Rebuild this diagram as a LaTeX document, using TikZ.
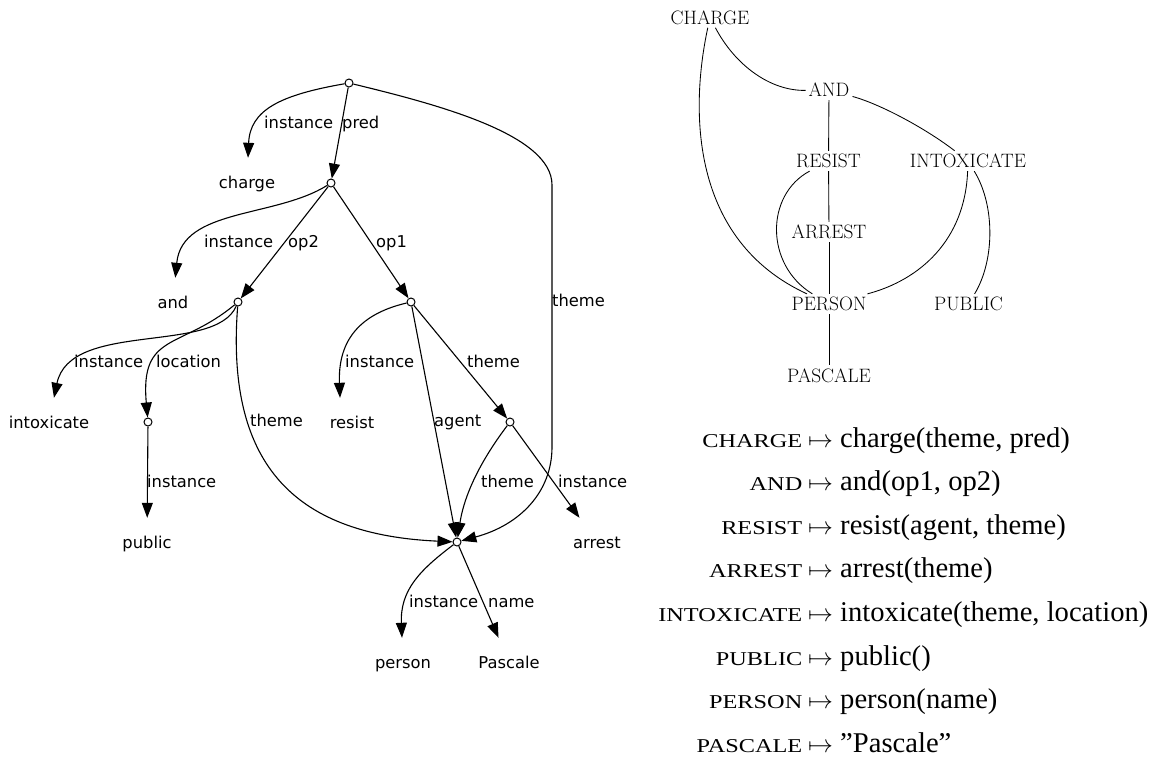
\documentclass[tikz,border=0pt]{standalone}
\usepackage{fontspec}
\usetikzlibrary{arrows.meta}
\newfontfamily\dvsans{DejaVu Sans}
\newfontfamily\libserif{Liberation Serif}
\newfontfamily\libsc[FakeStretch=1.24]{Liberation Serif}
\newcommand{\amrfont}{\dvsans\fontsize{16.3}{19}\selectfont}
\newcommand{\depfont}{\rmfamily\fontsize{19.4}{23}\selectfont}
\newcommand{\mapfont}{\libserif\fontsize{28.6}{34}\selectfont}
\newcommand{\keyfont}{\libsc\fontsize{19.6}{24}\selectfont}

\tikzset{
  concept/.style={circle, draw, fill=white, inner sep=0pt, minimum size=8pt, line width=1pt},
  word/.style={font=\amrfont, inner sep=0pt, text height=14pt, text depth=2pt, minimum height=48pt},
  lbl/.style={font=\amrfont, inner sep=0pt, anchor=base west},
  rel/.style={line width=1.1pt, -{Triangle[length=15pt,width=11pt]}},
  tnode/.style={font=\depfont, inner sep=3pt},
  dep/.style={line width=0.85pt},
  keytxt/.style={font=\keyfont, inner sep=0pt, anchor=base east},
  valtxt/.style={font=\mapfont, inner sep=0pt, anchor=base west},
}

\begin{document}
\begin{tikzpicture}[x=1pt, y=-1pt]
\useasboundingbox (0,0) rectangle (1169,761);

% AMR graph
\node[concept] (vc) at (349,83) {};
\node[concept] (va) at (331,183) {};
\node[concept] (vi) at (238,302) {};
\node[concept] (vr) at (411,302) {};
\node[concept] (vpu) at (148,422) {};
\node[concept] (var) at (510,422) {};
\node[concept] (vp) at (457,542) {};

\node[word] (charge) at (247,182) {charge};
\node[word] (and) at (173,302) {and};
\node[word] (intoxicate) at (49,422) {intoxicate};
\node[word] (resist) at (352,422) {resist};
\node[word] (public) at (147,542) {public};
\node[word] (arrest) at (597,542) {arrest};
\node[word] (person) at (403,662) {person};
\node[word] (pascale) at (509,662) {Pascale};

\coordinate (bend1) at (552,185);
\coordinate (bend2) at (552,447);

\draw[rel] (vc) .. controls (280,95) and (250,110) .. (charge);
\draw[rel] (vc) -- (va);
\draw[rel] (vc) .. controls (440,105) and (552,135) .. (bend1) -- (bend2) .. controls (552,492) and (520,525) .. (vp);
\draw[rel] (va) .. controls (275,218) and (182,208) .. (and);
\draw[rel] (va) -- (vi);
\draw[rel] (va) -- (vr);
\draw[rel] (vi) .. controls (215,355) and (70,320) .. (intoxicate);
\draw[rel] (vi) .. controls (180,350) and (140,332) .. (vpu);
\draw[rel] (vi) .. controls (225,470) and (300,535) .. (vp);
\draw[rel] (vpu) -- (public);
\draw[rel] (vr) .. controls (355,315) and (338,345) .. ([xshift=-12pt]resist.north);
\draw[rel] (vr) -- (vp);
\draw[rel] (vr) -- (var);
\draw[rel] (var) .. controls (485,455) and (465,490) .. (vp);
\draw[rel] (var) -- (arrest);
\draw[rel] (vp) .. controls (420,570) and (400,590) .. (person);
\draw[rel] (vp) -- (pascale);

\node[lbl] (l-charge) at (264,128.5) {instance};
\node[lbl] (l-pred) at (342,128.5) {pred};
\node[lbl] (l-and) at (204,247.5) {instance};
\node[lbl] (l-op2) at (288,247.5) {op2};
\node[lbl] (l-op1) at (376,247.5) {op1};
\node[lbl] (l-theme1) at (552,306.5) {theme};
\node[lbl] (l-intox) at (74,367.5) {instance};
\node[lbl] (l-loc) at (156,367.5) {location};
\node[lbl] (l-resist) at (345,367.5) {instance};
\node[lbl] (l-theme2) at (467,367.5) {theme};
\node[lbl] (l-theme3) at (250,426.5) {theme};
\node[lbl] (l-agent) at (434,426.5) {agent};
\node[lbl] (l-public) at (147,487.5) {instance};
\node[lbl] (l-theme4) at (481,487.5) {theme};
\node[lbl] (l-arrest) at (558,487.5) {instance};
\node[lbl] (l-person) at (409,607.5) {instance};
\node[lbl] (l-name) at (488,607.5) {name};

% dependency tree
\node[tnode] (t-charge) at (710,17.5) {CHARGE};
\node[tnode] (t-and) at (829,90) {AND};
\node[tnode] (t-resist) at (828.5,161) {RESIST};
\node[tnode] (t-intox) at (968,161) {INTOXICATE};
\node[tnode] (t-arrest) at (829,232) {ARREST};
\node[tnode] (t-person) at (829,304) {PERSON};
\node[tnode] (t-public) at (968.5,304) {PUBLIC};
\node[tnode] (t-pascale) at (829,375.5) {PASCALE};

\draw[dep] (t-charge) .. controls (735,65) and (770,91) .. (t-and);
\draw[dep] (t-charge) .. controls (690,110) and (690,240) .. (t-person);
\draw[dep] (t-and) -- (t-resist);
\draw[dep] (t-and) .. controls (880,104) and (925,128) .. (t-intox);
\draw[dep] (t-resist) -- (t-arrest);
\draw[dep] (t-arrest) -- (t-person);
\draw[dep] (t-person) -- (t-pascale);
\draw[dep] (t-resist) .. controls (765,195) and (765,265) .. (t-person);
\draw[dep] (t-intox) .. controls (965,240) and (920,280) .. (t-person);
\draw[dep] (t-intox) .. controls (995,205) and (995,260) .. (t-public);

% type assignment
\foreach \kname/\kfun [count=\i] in {CHARGE/{charge(theme, pred)}, AND/{and(op1, op2)},
    RESIST/{resist(agent, theme)}, ARREST/{arrest(theme)},
    INTOXICATE/{intoxicate(theme, location)}, PUBLIC/{public()},
    PERSON/{person(name)}, PASCALE/{”Pascale”}}{
  \node[keytxt] (key\i) at (802.5,{403.4+43.6*\i}) {\kname};
  \node[valtxt] (val\i) at (808,{403.4+43.6*\i}) {$\mapsto$ \kfun};
}
\end{tikzpicture}
\end{document}
